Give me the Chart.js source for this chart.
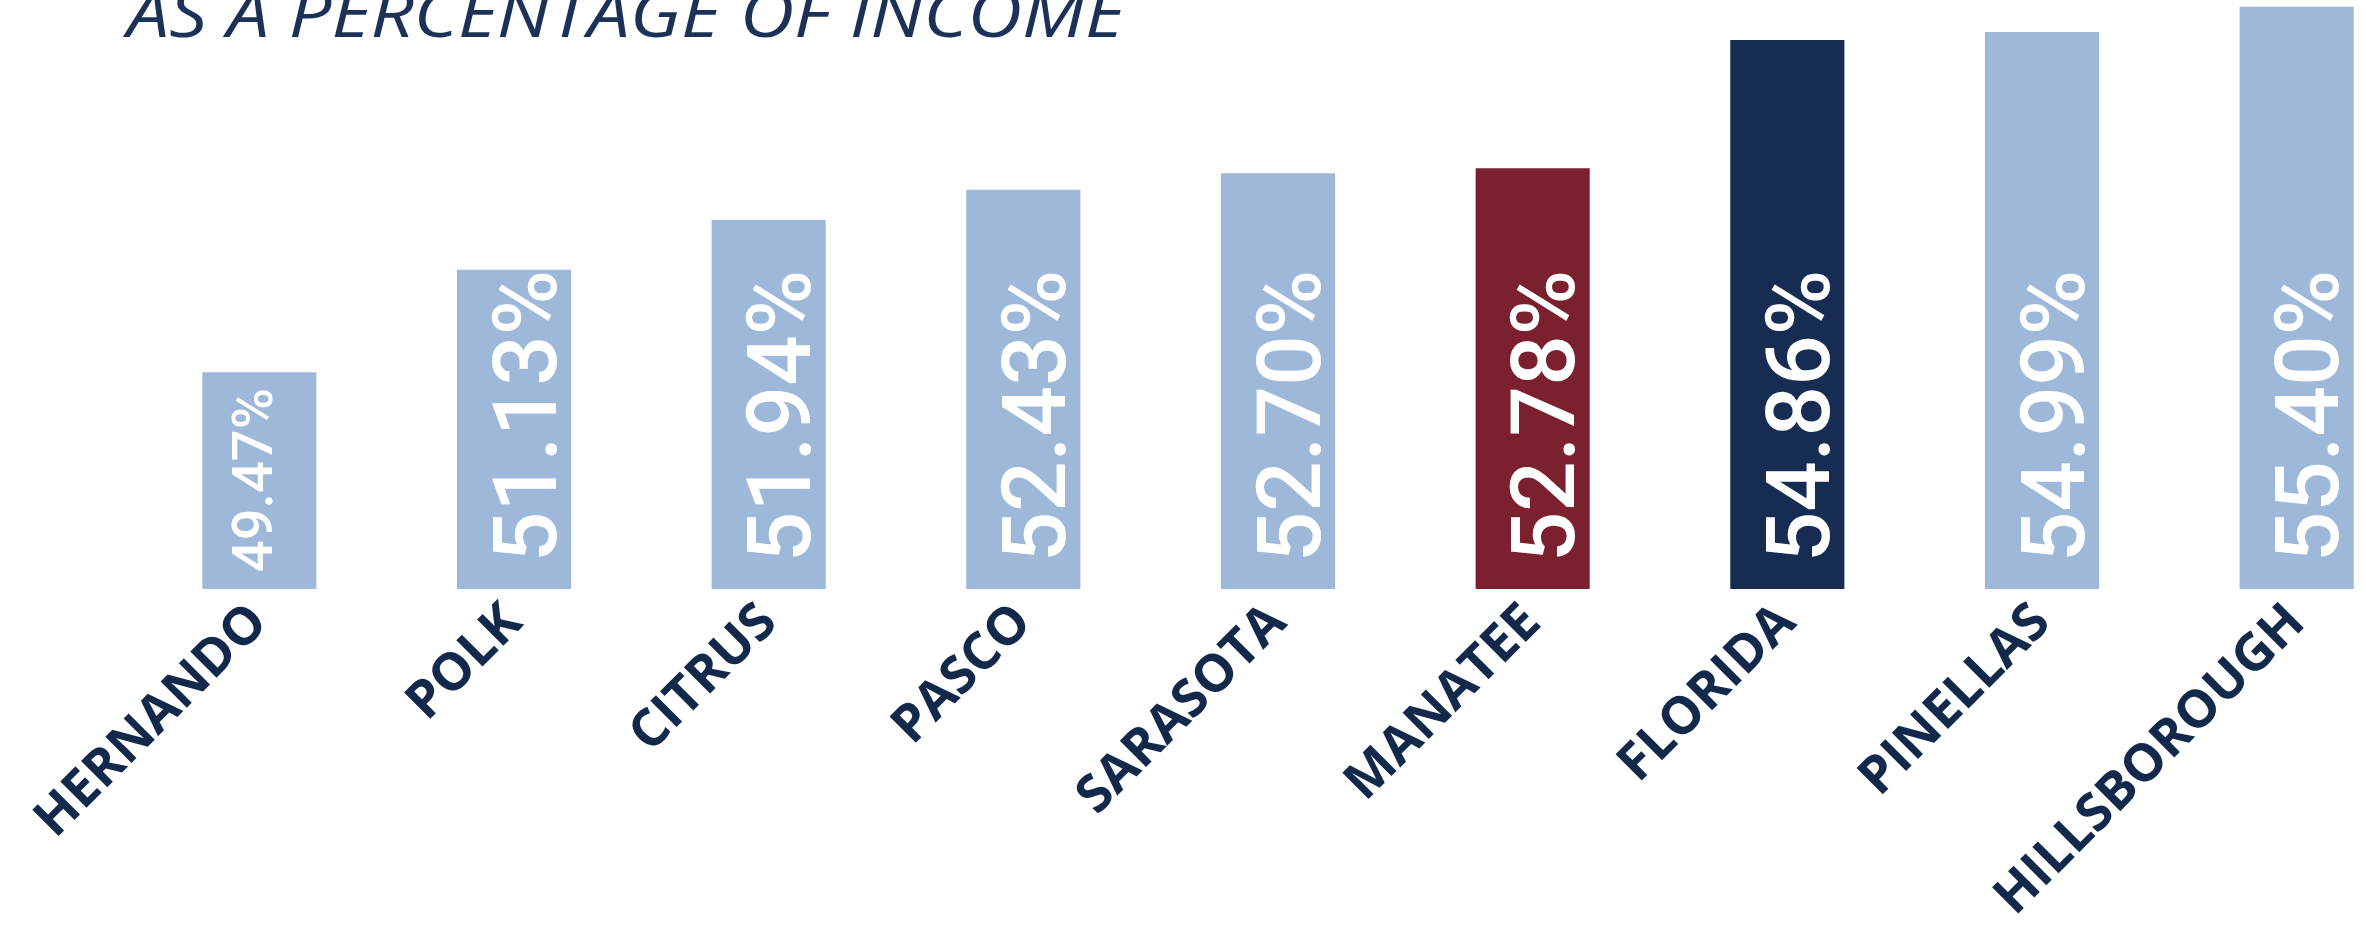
<!DOCTYPE html>
<html>
<head>
<meta charset="utf-8">
<script src="https://cdn.jsdelivr.net/npm/chart.js@4"></script>
<style>
  html, body { margin: 0; padding: 0; background: #ffffff; overflow: hidden; }
  .wrap { position: relative; width: 2424px; height: 928px; }
</style>
</head>
<body>
<div class="wrap"><canvas id="chart"></canvas></div>
<script>
const counties = ['HERNANDO', 'POLK', 'CITRUS', 'PASCO', 'SARASOTA', 'MANATEE', 'FLORIDA', 'PINELLAS', 'HILLSBOROUGH'];
const costShare = [49.47, 51.13, 51.94, 52.43, 52.70, 52.78, 54.86, 54.99, 55.40];
const titleText = 'AS A PERCENTAGE OF INCOME';

const barColors = counties.map(c => c === 'MANATEE' ? '#7a202e' : c === 'FLORIDA' ? '#162c52' : '#9db8d8');

// white rotated value labels inside the bars + the cut title line
const valueLabels = {
    id: 'valueLabels',
    afterDraw(chart) {
        const ctx = chart.ctx;
        const xs = chart.scales.x;
        const ys = chart.scales.y;
        costShare.forEach((v, i) => {
            const x = xs.getPixelForValue(i);
            const base = ys.bottom;
            const h = base - ys.getPixelForValue(v);
            const size = h > 280 ? 89 : 56;
            const shift = size > 70 ? 10 : -7;
            ctx.save();
            ctx.translate(x + size * 0.355 + shift, base - size * 0.3);
            ctx.rotate(-Math.PI / 2);
            ctx.font = '500 ' + size + 'px Roboto';
            ctx.fillStyle = '#ffffff';
            ctx.textAlign = 'left';
            ctx.textBaseline = 'alphabetic';
            ctx.fillText(v.toFixed(2) + '%', 0, 0);
            ctx.restore();
        });

        ctx.save();
        ctx.font = 'italic 400 66px "Open Sans"';
        const w = ctx.measureText(titleText).width;
        ctx.translate(127, 37);
        ctx.scale(997 / w, 1);
        ctx.fillStyle = '#1b3157';
        ctx.textAlign = 'left';
        ctx.textBaseline = 'alphabetic';
        ctx.fillText(titleText, 0, 0);
        ctx.restore();
    }
};

new Chart(document.getElementById('chart'), {
    type: 'bar',
    data: {
        labels: counties,
        datasets: [{
            data: costShare,
            backgroundColor: barColors,
            borderWidth: 0,
            categoryPercentage: 1,
            barPercentage: 0.448
        }]
    },
    options: {
        responsive: true,
        maintainAspectRatio: false,
        animation: false,
        layout: { padding: { left: 132, right: 0, top: 0, bottom: 0 } },
        plugins: {
            legend: { display: false },
            tooltip: { enabled: false }
        },
        scales: {
            x: {
                grid: { display: false, drawTicks: false },
                border: { display: false },
                ticks: {
                    minRotation: 45,
                    maxRotation: 45,
                    autoSkip: false,
                    padding: 3,
                    color: '#13294b',
                    font: { family: '"Open Sans"', weight: 'bold', size: 52 }
                },
                afterFit(scale) {
                    scale.paddingLeft = 0;
                    scale.paddingRight = 0;
                    scale.height = 339;
                }
            },
            y: {
                display: false,
                min: 45.95,
                max: 55.51
            }
        }
    },
    plugins: [valueLabels]
});
</script>
</body>
</html>
